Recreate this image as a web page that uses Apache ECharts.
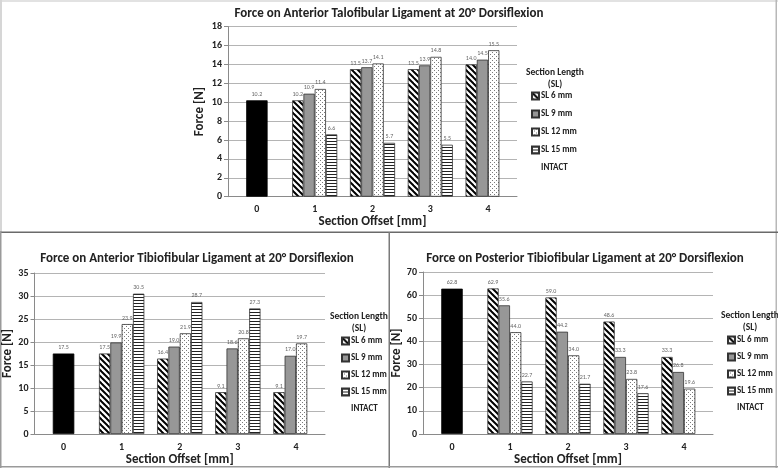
<!DOCTYPE html>
<html><head><meta charset="utf-8">
<script src="https://cdn.jsdelivr.net/npm/echarts@6/dist/echarts.min.js"></script>
<style>html,body{margin:0;padding:0;background:#fff}#c{width:778px;height:468px}</style>
</head><body><div id="c"></div>
<script>
// ---- data ----
const categories = ['0', '1', '2', '3', '4'];
const slNames = ['SL 6 mm', 'SL 9 mm', 'SL 12 mm', 'SL 15 mm'];
const intactName = 'INTACT';

// Anterior Talofibular Ligament
const atflIntact = [10.2, null, null, null, null];
const atflSL6  = [null, 10.2, 13.5, 13.5, 14.0];
const atflSL9  = [null, 10.9, 13.7, 13.9, 14.5];
const atflSL12 = [null, 11.4, 14.1, 14.8, 15.5];
const atflSL15 = [null, 6.6, 5.7, 5.5, null];

// Anterior Tibiofibular Ligament
const atiflIntact = [17.5, null, null, null, null];
const atiflSL6  = [null, 17.5, 16.4, 9.1, 9.1];
const atiflSL9  = [null, 19.9, 19.0, 18.6, 17.0];
const atiflSL12 = [null, 23.9, 21.9, 20.8, 19.7];
const atiflSL15 = [null, 30.5, 28.7, 27.3, null];

// Posterior Tibiofibular Ligament
const ptiflIntact = [62.8, null, null, null, null];
const ptiflSL6  = [null, 62.9, 59.0, 48.6, 33.3];
const ptiflSL9  = [null, 55.6, 44.2, 33.3, 26.8];
const ptiflSL12 = [null, 44.0, 34.0, 23.8, 19.6];
const ptiflSL15 = [null, 22.7, 21.7, 17.6, null];

const titles = [
  'Force on Anterior Talofibular Ligament at 20° Dorsiflexion',
  'Force on Anterior Tibiofibular Ligament at 20° Dorsiflexion',
  'Force on Posterior Tibiofibular Ligament at 20° Dorsiflexion'
];
const yMax = [18, 35, 70];
const yInterval = [2, 5, 10];

// ---- styles ----
const FONT = 'Carlito, "Liberation Sans Narrow", "DejaVu Sans Condensed", Lato, sans-serif';
const TXT = '#222';

function pattern(kind) {
  const c = document.createElement('canvas');
  const ctx = c.getContext('2d');
  if (kind === 'diag') {
    c.width = 6; c.height = 6;
    ctx.fillStyle = '#fff'; ctx.fillRect(0, 0, 6, 6);
    ctx.strokeStyle = '#000'; ctx.lineWidth = 2;
    for (let k = -1; k <= 1; k++) {
      ctx.beginPath(); ctx.moveTo(-1, -1 + 6 * k); ctx.lineTo(7, 7 + 6 * k); ctx.stroke();
    }
  } else if (kind === 'dots') {
    c.width = 4; c.height = 4;
    ctx.fillStyle = '#fff'; ctx.fillRect(0, 0, 4, 4);
    ctx.fillStyle = '#7a7a7a';
    ctx.fillRect(0, 0, 1, 1); ctx.fillRect(2, 2, 1, 1);
  } else if (kind === 'hlines') {
    c.width = 4; c.height = 3;
    ctx.fillStyle = '#fff'; ctx.fillRect(0, 0, 4, 3);
    ctx.fillStyle = '#222'; ctx.fillRect(0, 0, 4, 1);
  }
  return { image: c, repeat: 'repeat' };
}
const slColors = [pattern('diag'), '#979797', pattern('dots'), pattern('hlines')];

const panels = [
  { intact: atflIntact, sl: [atflSL6, atflSL9, atflSL12, atflSL15],
    grid: { left: 228, right: 261, top: 26.6, bottom: 271.3 },
    title: { x: 384, y: 2 }, yNameGap: 22, xNameGap: 17,
    legend: { left: 526, top: 84.5, gap: 5 }, head: { x: 550, y: 62 } },
  { intact: atiflIntact, sl: [atiflSL6, atiflSL9, atiflSL12, atiflSL15],
    grid: { left: 34.5, right: 453, top: 273, bottom: 34 },
    title: { x: 192, y: 247 }, yNameGap: 19, xNameGap: 15,
    legend: { left: 336, top: 329.5, gap: 4 }, head: { x: 354, y: 306 } },
  { intact: ptiflIntact, sl: [ptiflSL6, ptiflSL9, ptiflSL12, ptiflSL15],
    grid: { left: 423, right: 65, top: 272, bottom: 34 },
    title: { x: 580, y: 247 }, yNameGap: 19, xNameGap: 15,
    legend: { left: 722, top: 328.5, gap: 4 }, head: { x: 745, y: 305 } }
];

const labelCfg = {
  show: true, position: 'top', distance: 3, fontSize: 6, color: '#666', fontFamily: FONT,
  formatter: p => (p.value == null ? '' : p.value.toFixed(1))
};

const option = {
  animation: false,
  backgroundColor: '#fff',
  title: [], legend: [], grid: [], xAxis: [], yAxis: [], series: [],
  graphic: [
    { type: 'rect', shape: { x: 0, y: 0, width: 778, height: 2 }, style: { fill: '#e2e2e2' } },
    { type: 'rect', shape: { x: 0, y: 0, width: 2, height: 232 }, style: { fill: '#d6d6d6' } },
    { type: 'rect', shape: { x: 775.5, y: 0, width: 1.5, height: 468 }, style: { fill: '#b8b8b8' } },
    { type: 'rect', shape: { x: 0, y: 231.5, width: 778, height: 1.5 }, style: { fill: '#6a6a6a' } },
    { type: 'rect', shape: { x: 0, y: 232, width: 1.5, height: 236 }, style: { fill: '#9a9a9a' } },
    { type: 'rect', shape: { x: 388.5, y: 232, width: 1.5, height: 236 }, style: { fill: '#7a7a7a' } },
    { type: 'rect', shape: { x: 0, y: 466, width: 778, height: 1.5 }, style: { fill: '#9a9a9a' } }
  ]
};

panels.forEach((p, i) => {
  option.title.push({
    text: titles[i], left: p.title.x, top: p.title.y, textAlign: 'center',
    textStyle: { fontFamily: FONT, fontSize: 13, fontWeight: 'bold', color: TXT }
  });
  option.title.push({
    text: 'Section Length\n(SL)', left: p.head.x, top: p.head.y, textAlign: 'center',
    textStyle: { fontFamily: FONT, fontSize: 9.5, fontWeight: 'bold', color: TXT, lineHeight: 11.5, align: 'center' }
  });
  option.legend.push({
    orient: 'vertical', left: p.legend.left, top: p.legend.top, itemGap: p.legend.gap,
    itemWidth: 7, itemHeight: 7, icon: 'rect', selectedMode: false,
    textStyle: { fontFamily: FONT, fontSize: 9, fontWeight: 'bold', color: TXT, lineHeight: 13, padding: [0, 0, 0, -3] },
    data: slNames.concat([{ name: intactName, icon: 'none' }])
  });
  option.grid.push(p.grid);
  option.xAxis.push({
    type: 'category', gridIndex: i, data: categories,
    name: 'Section Offset [mm]', nameLocation: 'middle', nameGap: p.xNameGap,
    nameTextStyle: { fontFamily: FONT, fontSize: 13, color: TXT, fontWeight: 600 },
    axisLine: { lineStyle: { color: '#8a8a8a' } },
    axisTick: { length: 4, lineStyle: { color: '#8a8a8a' } },
    axisLabel: { fontFamily: FONT, fontSize: 10, fontWeight: 'bold', color: TXT, margin: 8 }
  });
  option.xAxis.push({
    type: 'category', gridIndex: i, data: categories, show: false
  });
  option.yAxis.push({
    type: 'value', gridIndex: i, min: 0, max: yMax[i], interval: yInterval[i],
    name: 'Force [N]', nameLocation: 'middle', nameGap: p.yNameGap,
    nameTextStyle: { fontFamily: FONT, fontSize: 13, fontWeight: 'bold', color: TXT },
    axisLine: { show: true, lineStyle: { color: '#8a8a8a' } },
    axisTick: { show: true, length: 4, lineStyle: { color: '#8a8a8a' } },
    axisLabel: { fontFamily: FONT, fontSize: 10, fontWeight: 'bold', color: TXT, margin: 6 },
    splitLine: { lineStyle: { color: '#b4b4b4' } }
  });
  p.sl.forEach((arr, k) => {
    option.series.push({
      type: 'bar', name: slNames[k], data: arr,
      xAxisIndex: i * 2, yAxisIndex: i,
      barGap: '0%', barCategoryGap: '22%',
      itemStyle: { color: slColors[k], borderColor: '#333', borderWidth: 0.8 },
      label: labelCfg
    });
  });
  option.series.push({
    type: 'bar', name: intactName, data: p.intact,
    xAxisIndex: i * 2 + 1, yAxisIndex: i,
    barCategoryGap: '63%',
    itemStyle: { color: '#000', borderColor: '#000', borderWidth: 0.8 },
    label: labelCfg
  });
});

const chart = echarts.init(document.getElementById('c'), null, { renderer: 'canvas' });
chart.setOption(option);
</script>
</body></html>
